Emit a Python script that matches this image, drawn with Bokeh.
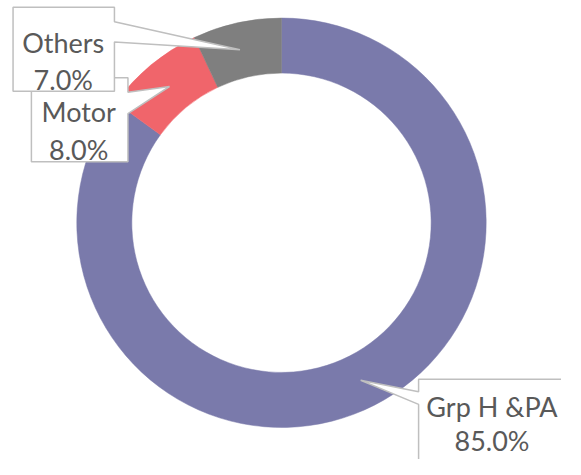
import math
from bokeh.plotting import figure
from bokeh.models import Range1d, ColumnDataSource
from bokeh.core.properties import value
from bokeh.embed import file_html
from bokeh.resources import INLINE

# ---- data ----
categories = ["Grp H &PA", "Motor", "Others"]
shares = [85.0, 8.0, 7.0]
colors = ["#7a7aab", "#f0656b", "#7f7f7f"]

# ---- layout (reference pixel coordinates, y measured from top) ----
W, H = 581, 475
cx, cy = 291, 230
r_out, r_in = 212, 155

def Y(y):
    return H - y

p = figure(width=561, height=459, output_backend="svg",
           toolbar_location=None, x_range=Range1d(0, W),
           y_range=Range1d(0, H), min_border=0)
p.axis.visible = False
p.grid.visible = False
p.outline_line_color = None
p.background_fill_color = "white"

total = sum(shares)
starts, ends = [], []
acc = 0.0
for s in shares:
    a0 = math.pi / 2 - 2 * math.pi * acc / total
    acc += s
    a1 = math.pi / 2 - 2 * math.pi * acc / total
    starts.append(a0)
    ends.append(a1)

src = ColumnDataSource(dict(x=[cx] * 3, y=[Y(cy)] * 3, start=starts, end=ends,
                            color=colors))
p.annular_wedge(x="x", y="y", inner_radius=r_in, outer_radius=r_out,
                start_angle="start", end_angle="end", direction="clock",
                fill_color="color", line_color="color", line_width=0.5,
                source=src)

# ---- callouts (box + pointer) ----
callouts = {
    "Motor": [(32, 80), (132, 80), (132, 95), (175, 89), (132, 117), (132, 167), (32, 167)],
    "Others": [(13, 7), (118, 7), (118, 22), (248, 51), (118, 43), (118, 94), (13, 94)],
    "Grp H &PA": [(433, 392), (600, 392), (600, 490), (433, 490), (433, 418), (373, 393), (433, 405)],
}
text_pos = {
    "Others": (65, 43, 82),
    "Motor": (81, 115, 154),
    "Grp H &PA": (509, 420, 455),
}
for cat in ["Motor", "Others", "Grp H &PA"]:
    pts = callouts[cat]
    p.patch([q[0] for q in pts], [Y(q[1]) for q in pts], fill_color="white",
            line_color="#bfbfbf", line_width=1.5)
    i = categories.index(cat)
    tx, ty1, ty2 = text_pos[cat]
    p.text(x=[tx, tx], y=[Y(ty1), Y(ty2)],
           text=[cat, "%.1f%%" % shares[i]],
           text_font=value("Lato"), text_font_size="27px",
           text_color="#595959", text_align="center",
           text_baseline="alphabetic")

open("out.html", "w").write(file_html(p, INLINE))
